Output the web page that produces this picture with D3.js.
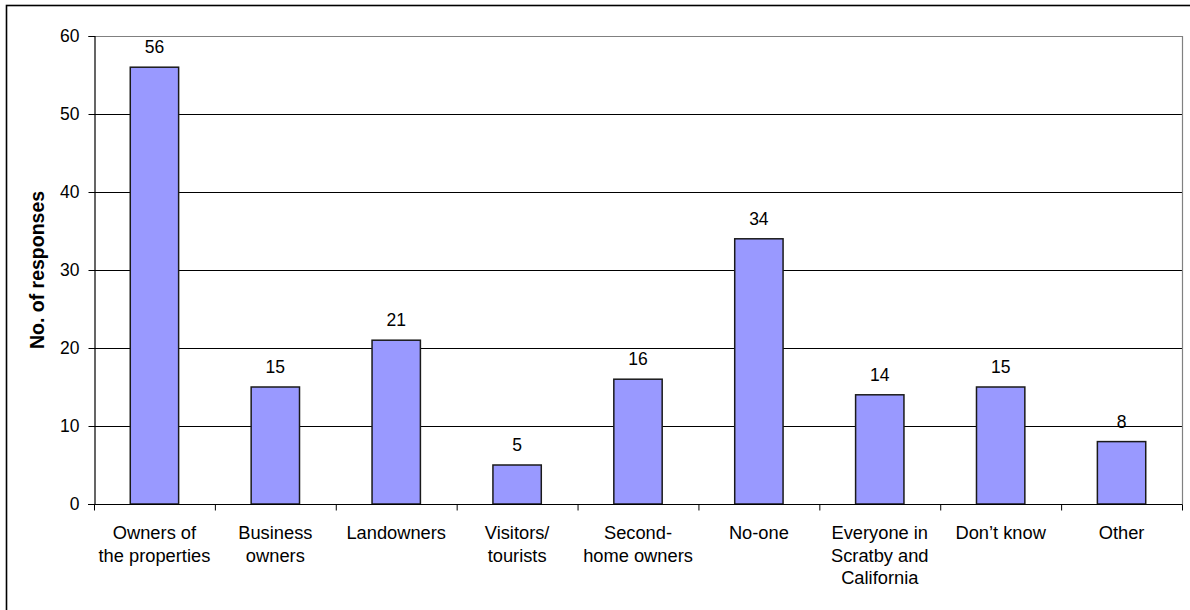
<!DOCTYPE html>
<html>
<head>
<meta charset="utf-8">
<script src="https://cdn.jsdelivr.net/npm/d3@7"></script>
<style>
  html, body { margin: 0; padding: 0; background: #fff; }
  svg { display: block; }
  text { font-family: "Liberation Sans", Arial, sans-serif; fill: #000; }
</style>
</head>
<body>
<svg id="chart" width="1190" height="610"></svg>
<script>
// Who should pay: number of responses per answer
const categories = [
  ["Owners of", "the properties"],
  ["Business", "owners"],
  ["Landowners"],
  ["Visitors/", "tourists"],
  ["Second-", "home owners"],
  ["No-one"],
  ["Everyone in", "Scratby and", "California"],
  ["Don\u2019t know"],
  ["Other"]
];
const responses = [56, 15, 21, 5, 16, 34, 14, 15, 8];
const yTicks = [0, 10, 20, 30, 40, 50, 60];
const yTitle = "No. of responses";

const svg = d3.select("#chart");
const plot = { left: 94, right: 1182, top: 36, bottom: 504 };

// outer chart frame (extends past the right and bottom edges)
svg.append("rect")
  .attr("x", 6.5).attr("y", 5.5)
  .attr("width", 1230).attr("height", 650)
  .attr("fill", "none").attr("stroke", "#000").attr("stroke-width", 1.6);

const keys = categories.map((d, i) => i);
const x = d3.scaleBand().domain(keys).range([plot.left, plot.right]).paddingInner(0).paddingOuter(0);
const y = d3.scaleLinear().domain([0, 60]).range([plot.bottom, plot.top]);

// horizontal gridlines
svg.append("g")
  .selectAll("line")
  .data(yTicks.filter(t => t > 0 && t < 60))
  .join("line")
  .attr("x1", plot.left).attr("x2", plot.right)
  .attr("y1", d => Math.round(y(d)) + 0.5).attr("y2", d => Math.round(y(d)) + 0.5)
  .attr("stroke", "#000").attr("stroke-width", 1);

// plot area border, top and right
svg.append("path")
  .attr("d", `M${plot.left},${y(60) + 0.5}H${plot.right + 0.5}V${plot.bottom}`)
  .attr("fill", "none").attr("stroke", "#808080").attr("stroke-width", 1.2);

// bars
const barW = x.bandwidth() * 0.4;
svg.append("g")
  .selectAll("rect")
  .data(responses)
  .join("rect")
  .attr("x", (d, i) => x(i) + (x.bandwidth() - barW) / 2)
  .attr("y", d => y(d))
  .attr("width", barW)
  .attr("height", d => y(0) - y(d))
  .attr("fill", "#9999ff")
  .attr("stroke", "#1a1a1a")
  .attr("stroke-width", 1.5);

// value labels
svg.append("g")
  .selectAll("text")
  .data(responses)
  .join("text")
  .attr("x", (d, i) => x(i) + x.bandwidth() / 2)
  .attr("y", d => y(d) - 14)
  .attr("text-anchor", "middle")
  .attr("font-size", 17.5)
  .text(d => d);

// y axis
const yAxis = d3.axisLeft(y).tickValues(yTicks).tickSize(6).tickPadding(9);
const gy = svg.append("g").attr("transform", `translate(${plot.left + 0.5},0)`).call(yAxis);
gy.select(".domain").attr("stroke", "#000").attr("stroke-width", 1.2);
gy.selectAll(".tick line").attr("stroke", "#000");
gy.selectAll(".tick text")
  .attr("font-family", "Liberation Sans, Arial, sans-serif")
  .attr("font-size", 17.5).attr("fill", "#000");

// x axis: ticks sit on category boundaries
const gx = svg.append("g").attr("transform", `translate(0,${plot.bottom + 0.5})`);
gx.append("line")
  .attr("x1", plot.left - 6).attr("x2", plot.right + 0.5)
  .attr("stroke", "#000").attr("stroke-width", 1.2);
gx.selectAll("line.tick")
  .data(d3.range(categories.length + 1))
  .join("line").attr("class", "tick")
  .attr("x1", i => i < categories.length ? x(i) + 0.5 : plot.right + 0.5)
  .attr("x2", i => i < categories.length ? x(i) + 0.5 : plot.right + 0.5)
  .attr("y1", 0).attr("y2", 6)
  .attr("stroke", "#000");

const catLabels = gx.selectAll("text.cat")
  .data(categories)
  .join("text").attr("class", "cat")
  .attr("text-anchor", "middle")
  .attr("font-size", 18.3);
catLabels.each(function (lines, i) {
  const t = d3.select(this);
  lines.forEach((line, j) => {
    t.append("tspan")
      .attr("x", x(i) + x.bandwidth() / 2)
      .attr("y", 34.5 + j * 22.5)
      .text(line);
  });
});

// y axis title
svg.append("text")
  .attr("transform", `translate(44,${(plot.top + plot.bottom) / 2}) rotate(-90)`)
  .attr("text-anchor", "middle")
  .attr("font-size", 19.5)
  .attr("font-weight", "bold")
  .text(yTitle);
</script>
</body>
</html>
